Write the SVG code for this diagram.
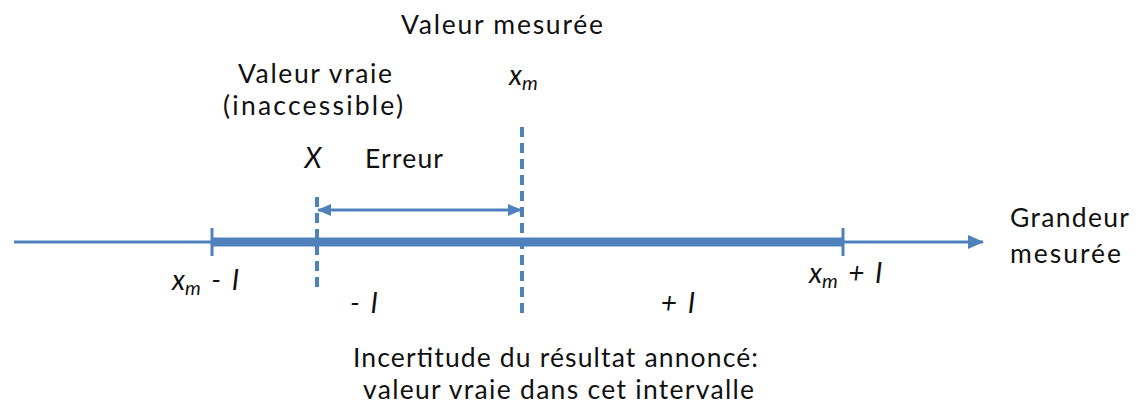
<svg xmlns="http://www.w3.org/2000/svg" width="1136" height="410" viewBox="0 0 1136 410">
<style>
text{font-family:Lato,"Open Sans",sans-serif;font-size:26.5px;fill:#111}
.c{text-anchor:middle}
.i{font-style:italic;font-size:28px;word-spacing:4px}
.s{font-size:20px}
.ax{stroke:#4f81bd;fill:none}
.d{stroke:#4f81bd;stroke-width:4;stroke-dasharray:10 6;fill:none}
</style>
<defs>
<marker id="ah" markerWidth="14" markerHeight="14" refX="13" refY="7" orient="auto-start-reverse" markerUnits="userSpaceOnUse"><path d="M0,1 L14,7 L0,13 Z" fill="#4f81bd"/></marker>
<marker id="big" markerWidth="16" markerHeight="16" refX="15" refY="8" orient="auto" markerUnits="userSpaceOnUse"><path d="M0,1 L16,8 L0,15 Z" fill="#4f81bd"/></marker>
</defs>
<g id="connectors">
<line class="ax" x1="14" y1="242" x2="983" y2="242" stroke-width="3" marker-end="url(#big)"/>
<line class="ax" x1="212" y1="242" x2="843" y2="242" stroke-width="9"/>
<line class="ax" x1="212" y1="228" x2="212" y2="256" stroke-width="3"/>
<line class="ax" x1="843" y1="228" x2="843" y2="256" stroke-width="3"/>
<line class="d" x1="317" y1="197" x2="317" y2="290"/>
<line class="d" x1="522" y1="127" x2="522" y2="318"/>
<line class="ax" x1="318" y1="210" x2="521" y2="210" stroke-width="3" marker-start="url(#ah)" marker-end="url(#ah)"/>
</g>
<g id="label-mesuree"><text x="401" y="34" textLength="202">Valeur mesurée</text></g>
<g id="label-vraie"><text x="238" y="83" textLength="154">Valeur vraie</text><text x="223" y="115" textLength="180">(inaccessible)</text></g>
<g id="label-xm"><text class="i" x="509" y="85">x<tspan class="s" dy="5">m</tspan></text></g>
<g id="label-X"><text class="c i" x="313" y="168">X</text></g>
<g id="label-erreur"><text x="365" y="168" textLength="78">Erreur</text></g>
<g id="label-grandeur"><text x="1010" y="227" textLength="119">Grandeur</text><text x="1010" y="263" textLength="111">mesurée</text></g>
<g id="label-xm-minus"><text class="i" x="172" y="290">x<tspan class="s" dy="5">m</tspan><tspan dy="-5"> - I</tspan></text></g>
<g id="label-minus"><text class="c i" x="364" y="313">- I</text></g>
<g id="label-plus"><text class="c i" x="678" y="313">+ I</text></g>
<g id="label-xm-plus"><text class="i" x="809" y="283">x<tspan class="s" dy="5">m</tspan><tspan dy="-5"> + I</tspan></text></g>
<g id="label-incertitude"><text x="353" y="367" textLength="405">Incertitude du résultat annoncé:</text><text x="363" y="399" textLength="391">valeur vraie dans cet intervalle</text></g>
</svg>
